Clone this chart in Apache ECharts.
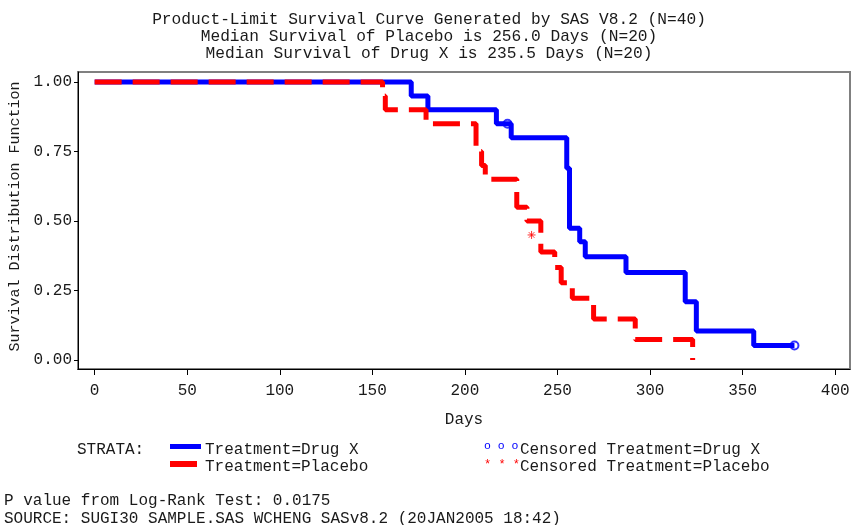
<!DOCTYPE html>
<html>
<head>
<meta charset="utf-8">
<script src="https://cdn.jsdelivr.net/npm/echarts@6/dist/echarts.min.js"></script>
<style>
  html, body { margin: 0; padding: 0; background: #fff; }
  #chart { width: 851px; height: 525px; }
</style>
</head>
<body>
<div id="chart"></div>
<script>
'use strict';

// Kaplan-Meier steps (day, survival after that day)
var drugTime = [0, 171, 180, 217, 225, 255, 256.5, 262, 265, 287, 319, 325, 356, 378];
var drugSurv = [1, 0.95, 0.90, 0.85, 0.80, 0.69, 0.474, 0.426, 0.372, 0.315, 0.21, 0.105, 0.0525, 0.0525];

var placeboTime = [0, 155.5, 157, 179, 206, 209, 211, 228, 233.5, 241, 248.5, 252, 258, 269.5, 292, 323];
var placeboSurv = [1, 0.95, 0.90, 0.85, 0.75, 0.70, 0.65, 0.55, 0.50, 0.389, 0.333, 0.278, 0.222, 0.148, 0.074, 0];

// censored observations
var censorDrugTime = [223, 378];
var censorDrugSurv = [0.85, 0.0525];
var censorPlaceboTime = [236];
var censorPlaceboSurv = [0.45];

var xTicks = [0, 50, 100, 150, 200, 250, 300, 350, 400];
var yTicks = [0, 0.25, 0.5, 0.75, 1];

var titleLines = [
    'Product-Limit Survival Curve Generated by SAS V8.2 (N=40)',
    'Median Survival of Placebo is 256.0 Days (N=20)',
    'Median Survival of Drug X is 235.5 Days (N=20)'
];

var FONT = '"Liberation Mono", "DejaVu Sans Mono", monospace';
var INK = '#1a1a1a';

function pairs(xs, ys) {
    var out = [];
    for (var i = 0; i < xs.length; i++) {
        out.push([xs[i], ys[i]]);
    }
    return out;
}

function txt(x, y, text, opts) {
    opts = opts || {};
    return {
        type: 'text',
        x: x,
        y: y,
        style: {
            text: text,
            font: (opts.size || 16) + 'px ' + FONT,
            fill: opts.color || INK,
            textAlign: opts.align || 'left',
            textVerticalAlign: 'middle'
        }
    };
}

var chart = echarts.init(document.getElementById('chart'), null, { renderer: 'canvas' });

var asterisk = 'path://M0,5L10,5M5,0L5,10M1.5,1.5L8.5,8.5M8.5,1.5L1.5,8.5';

var graphics = [];
titleLines.forEach(function (line, i) {
    graphics.push(txt(429, 20 + i * 16.7, line, { align: 'center', size: 16.2 }));
});

// legend
graphics.push(txt(77, 450, 'STRATA:'));
graphics.push({ type: 'rect', shape: { x: 170, y: 444, width: 31, height: 5 }, style: { fill: '#0000ff' } });
graphics.push(txt(205, 450, 'Treatment=Drug X'));
graphics.push({ type: 'rect', shape: { x: 170, y: 461, width: 27, height: 6 }, style: { fill: '#ff0000' } });
graphics.push(txt(205, 467, 'Treatment=Placebo'));
graphics.push(txt(484, 446, 'o o o', { size: 11.5, color: '#0000ff' }));
graphics.push(txt(520, 450, 'Censored Treatment=Drug X'));
graphics.push(txt(484, 465, '* * *', { size: 12, color: '#ff0000' }));
graphics.push(txt(520, 467, 'Censored Treatment=Placebo'));

// footnotes
graphics.push(txt(4, 501, 'P value from Log-Rank Test: 0.0175'));
graphics.push(txt(4, 519, 'SOURCE: SUGI30 SAMPLE.SAS WCHENG SASv8.2 (20JAN2005 18:42)'));

var option = {
    backgroundColor: '#fff',
    animation: false,
    grid: {
        left: 78,
        top: 72,
        right: 1,
        bottom: 156,
        outerBoundsMode: 'none',
        containLabel: false,
        show: true,
        borderColor: '#808080',
        borderWidth: 2,
        backgroundColor: 'transparent'
    },
    xAxis: {
        type: 'value',
        min: -9,
        max: 408,
        name: 'Days',
        nameLocation: 'middle',
        nameGap: 43,
        nameTextStyle: { fontFamily: FONT, fontSize: 16, color: INK },
        axisLine: { onZero: false, lineStyle: { color: '#000', width: 1 } },
        axisTick: { customValues: xTicks, length: 6, lineStyle: { color: '#000' } },
        axisLabel: {
            customValues: xTicks,
            margin: 14,
            fontFamily: FONT,
            fontSize: 16,
            color: INK
        },
        splitLine: { show: false }
    },
    yAxis: {
        type: 'value',
        min: -0.032,
        max: 1.036,
        name: 'Survival Distribution Function',
        nameLocation: 'middle',
        nameGap: 53,
        nameTextStyle: { fontFamily: FONT, fontSize: 15, color: INK, padding: [0, 0, 0, 8] },
        axisLine: { onZero: false, lineStyle: { color: '#000', width: 1 } },
        axisTick: { customValues: yTicks, length: 4, lineStyle: { color: '#000' } },
        axisLabel: {
            customValues: yTicks,
            margin: 6,
            fontFamily: FONT,
            fontSize: 16,
            color: INK,
            formatter: function (v) { return v.toFixed(2); }
        },
        splitLine: { show: false }
    },
    series: [
        {
            name: 'Treatment=Drug X',
            type: 'line',
            step: 'end',
            data: pairs(drugTime, drugSurv),
            showSymbol: false,
            lineStyle: { color: '#0000ff', width: 5 },
            z: 2
        },
        {
            name: 'Treatment=Placebo',
            type: 'line',
            step: 'end',
            data: pairs(placeboTime, placeboSurv),
            showSymbol: false,
            lineStyle: { color: '#ff0000', width: 5, type: [27, 11], cap: 'butt' },
            z: 3
        },
        {
            name: 'Censored Treatment=Drug X',
            type: 'scatter',
            data: pairs(censorDrugTime, censorDrugSurv),
            symbol: 'circle',
            symbolSize: 8,
            itemStyle: { color: 'rgba(0,0,0,0)', borderColor: '#0000ff', borderWidth: 2 },
            z: 4
        },
        {
            name: 'Censored Treatment=Placebo',
            type: 'scatter',
            data: pairs(censorPlaceboTime, censorPlaceboSurv),
            symbol: asterisk,
            symbolSize: 8,
            itemStyle: { color: 'none', borderColor: '#ff0000', borderWidth: 1 },
            z: 4
        }
    ],
    graphic: graphics
};

chart.setOption(option);
</script>
</body>
</html>
